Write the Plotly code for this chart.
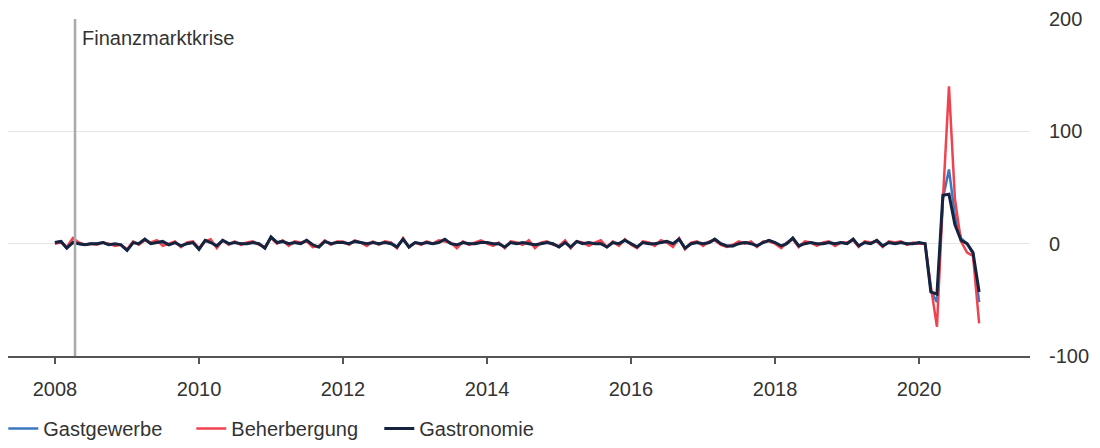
import pandas as pd
import plotly.graph_objects as go

# Monthly change, Jan 2008 - Nov 2020
months = pd.date_range("2008-01-01", periods=155, freq="MS")

gastgewerbe = [
    1, 2, -4, 2, 0, -1, 0, 0, 1, -1, -1, -1,
    -6, 1, 0, 4, 0, 2, 1, -1, 1, -2, 0, 1,
    -5, 3, 2, -3, 3, 0, 1, 0, 0, 1, 0, -4,
    6, 1, 2, -1, 1, 0, 3, -2, -3, 2, 0, 1,
    1, 0, 2, 1, -1, 1, 0, 1, 1, -3, 4, -3,
    1, 0, 1, 0, 2, 3, 0, -2, 1, 0, 0, 2,
    1, -1, 0, -3, 1, 0, 0, 1, -2, 0, 1, 0,
    -3, 2, -3, 2, 0, 0, 0, 1, -3, 1, -1, 3,
    0, -3, 1, 0, -1, 2, 2, -1, 4, -4, 0, 1,
    -1, 1, 4, 0, -2, -2, 1, 1, 1, -2, 1, 3,
    1, -3, 0, 5, -2, 1, 1, -1, 0, 1, -1, 1,
    0, 4, -2, 1, 0, 3, -2, 1, 0, 1, 0, 0,
    0, 0, -42, -52, 40, 66, 25, 5, 0, -9, -52,
]

beherbergung = [
    0, 1, -3, 5, 1, -1, 0, -1, 1, 0, -2, -1,
    -5, 2, -1, 3, 1, 3, -2, 0, 2, -3, 1, 2,
    -4, 2, 4, -4, 3, -1, 2, -1, 1, 2, -1, -3,
    5, 0, 3, -2, 2, 1, 2, -3, -2, 3, -1, 2,
    2, -1, 3, 1, -2, 2, -1, 2, 1, -4, 5, -3,
    1, -1, 2, 0, 3, 2, 1, -4, 2, -1, 1, 3,
    0, -2, 1, -4, 2, 1, -1, 3, -4, 1, 2, -1,
    -2, 3, -4, 2, 1, -2, 1, 3, -3, 2, -2, 4,
    -1, -4, 2, 1, -2, 3, 1, -3, 5, -5, 1, 2,
    -2, 2, 3, -1, -3, -1, 2, 0, 2, -3, 2, 2,
    0, -4, 1, 4, -3, 2, 1, -2, 1, 2, -2, 1,
    1, 3, -3, 2, 1, 2, -3, 2, 1, 2, -1, 1,
    0, 0, -38, -74, 38, 140, 40, 2, -8, -11, -71,
]

gastronomie = [
    1, 2, -4, 1, 0, -1, 0, 0, 1, -1, 0, -1,
    -6, 1, 0, 4, 0, 1, 2, -1, 1, -2, 0, 1,
    -5, 3, 1, -2, 3, 0, 1, 0, 0, 1, 0, -4,
    6, 1, 2, 0, 1, 0, 3, -1, -3, 2, 0, 1,
    1, 0, 2, 1, 0, 1, 0, 1, 0, -3, 4, -3,
    1, 0, 1, 0, 1, 4, 0, -1, 1, 0, 0, 1,
    1, 0, 0, -3, 1, 0, 1, 0, -1, 0, 1, 0,
    -3, 1, -3, 2, 0, 1, 0, 0, -3, 1, 0, 3,
    0, -3, 1, 0, 0, 1, 2, 0, 4, -4, 0, 1,
    0, 1, 4, 0, -2, -2, 0, 1, 0, -2, 1, 3,
    1, -2, 0, 5, -2, 0, 1, 0, 0, 1, 0, 1,
    0, 4, -2, 1, 0, 3, -2, 1, 0, 1, 0, 0,
    1, 0, -43, -45, 43, 44, 17, 3, 0, -8, -43,
]

series = [
    ("Gastgewerbe", gastgewerbe, "#3b78c0", 2.5),
    ("Beherbergung", beherbergung, "#f0434f", 2.5),
    ("Gastronomie", gastronomie, "#15233f", 3),
]

year_ticks = [2008, 2010, 2012, 2014, 2016, 2018, 2020]
y_ticks = [-100, 0, 100, 200]
crisis_date = "2008-04-12"
crisis_label = "Finanzmarktkrise"

FONT = "Liberation Sans, Arial, sans-serif"
TEXT = "#333333"
SIZE = 20

fig = go.Figure()
for name, values, color, width in series:
    fig.add_trace(go.Scatter(
        x=months, y=values, name=name, mode="lines",
        line=dict(color=color, width=width),
    ))

fig.add_shape(
    type="line", xref="x", yref="paper",
    x0=crisis_date, x1=crisis_date, y0=0, y1=1,
    line=dict(color="#aaaaaa", width=2.5), layer="above",
)
fig.add_annotation(
    x=crisis_date, y=1, xref="x", yref="paper",
    text=crisis_label, showarrow=False,
    xanchor="left", yanchor="top", xshift=5, yshift=-6,
    font=dict(family=FONT, size=SIZE, color=TEXT),
)

fig.update_layout(
    width=1100, height=448,
    margin=dict(l=8, r=70, t=17, b=92),
    plot_bgcolor="white", paper_bgcolor="white",
    font=dict(family=FONT, size=SIZE, color=TEXT),
    showlegend=True,
    legend=dict(
        orientation="h", xref="container", yref="container",
        x=0.003, y=0.0, xanchor="left", yanchor="bottom",
        font=dict(family=FONT, size=SIZE, color=TEXT),
        entrywidth=143, entrywidthmode="pixels",
    ),
    xaxis=dict(
        type="date",
        range=["2007-05-08", "2021-07-17"],
        tickvals=[f"{y}-01-01" for y in year_ticks],
        ticktext=[str(y) for y in year_ticks],
        showgrid=False, zeroline=False,
        showline=True, linecolor="#555555", linewidth=1.5,
        ticks="outside", ticklen=6, tickcolor="#555555", tickwidth=1.5,
        ticklabelstandoff=8,
        tickfont=dict(family=FONT, size=SIZE, color=TEXT),
    ),
    yaxis=dict(
        side="right", range=[-100, 200],
        tickvals=y_ticks, ticktext=[str(v) for v in y_ticks],
        showgrid=True, gridcolor="#e6e6e6", gridwidth=1,
        zeroline=False, showline=False, ticks="",
        ticklabelstandoff=18,
        tickfont=dict(family=FONT, size=SIZE, color=TEXT),
    ),
)

fig.write_html("out.html")
